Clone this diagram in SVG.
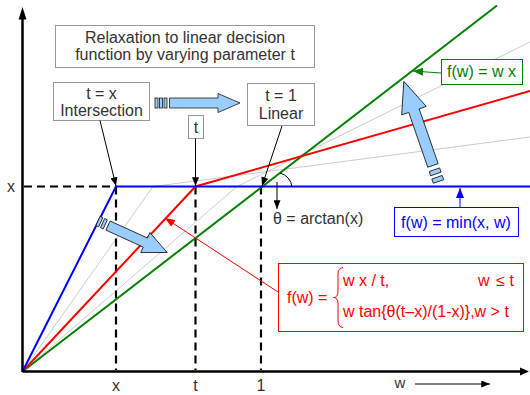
<svg xmlns="http://www.w3.org/2000/svg" width="530" height="395" viewBox="0 0 530 395">
<defs>
<style>
text { font-family: "Liberation Sans", Arial, sans-serif; font-size: 16px; fill: #333; }
.mid { text-anchor: middle; }
.box { fill: #fff; stroke: #999; stroke-width: 1; }
.dash { stroke: #000; stroke-width: 2.2; stroke-dasharray: 8 5; fill: none; }
.gray { stroke: #ccc; stroke-width: 1; fill: none; }
.blk { stroke: #000; stroke-width: 1; fill: none; }
.axis { stroke: #000; stroke-width: 2.5; fill: none; }
.barrow { fill: #99ccff; stroke: #1a1a1a; stroke-width: 0.8; }
.cblue { stroke: #0000ff; stroke-width: 2; fill: none; }
.cred { stroke: #ff0000; stroke-width: 2; fill: none; }
.cgreen { stroke: #008000; stroke-width: 2; fill: none; }
</style>
<marker id="ah" viewBox="0 0 10 8" refX="10" refY="4" markerWidth="9" markerHeight="7" markerUnits="userSpaceOnUse" orient="auto"><path d="M0,0 L10,4 L0,8 z" fill="#000"/></marker>
<marker id="ahr" viewBox="0 0 10 8" refX="10" refY="4" markerWidth="10" markerHeight="8" markerUnits="userSpaceOnUse" orient="auto"><path d="M0,0 L10,4 L0,8 z" fill="#ff0000"/></marker>
<marker id="ahb" viewBox="0 0 10 8" refX="10" refY="4" markerWidth="10" markerHeight="8" markerUnits="userSpaceOnUse" orient="auto"><path d="M0,0 L10,4 L0,8 z" fill="#0000ff"/></marker>
<marker id="ahg" viewBox="0 0 10 8" refX="10" refY="4" markerWidth="10" markerHeight="8" markerUnits="userSpaceOnUse" orient="auto"><path d="M0,0 L10,4 L0,8 z" fill="#008000"/></marker>
</defs>
<rect x="0" y="0" width="530" height="395" fill="#fff"/>

<g id="gray-curves">
<polyline class="gray" points="22.5,371.5 153,186.5 530,137"/>
<polyline class="gray" points="22.5,371.5 237,186.5 530,42"/>
</g>

<g id="guides">
<path class="dash" d="M24,186.5 H116 M116,186.5 V370 M195.5,186.5 V370 M261,186.5 V370"/>
</g>

<g id="curves">
<polyline class="cgreen" points="22.5,371.5 497,5.5"/>
<polyline class="cred" points="22.5,371.5 195.5,186.5 530,91"/>
<polyline class="cblue" points="22.5,371.5 116,186.5 530,186.5"/>
</g>

<g id="axes">
<path class="axis" d="M22.5,372 V18 M22.5,371.5 H521"/>
<polygon points="22.5,7 18.5,19.5 26.5,19.5" fill="#000"/>
<polygon points="529,371.5 520,367.5 520,375.5" fill="#000"/>
<text x="11" y="192" class="mid">x</text>
<text x="116" y="391" class="mid">x</text>
<text x="195.5" y="391" class="mid">t</text>
<text x="261" y="391" class="mid">1</text>
<text x="400" y="388" class="mid" style="font-size:15px">w</text>
<line class="blk" x1="415" y1="384" x2="490" y2="384" marker-end="url(#ah)"/>
</g>

<g id="title">
<rect class="box" x="55.5" y="25.5" width="259" height="42"/>
<text x="185" y="43" class="mid">Relaxation to linear decision</text>
<text x="185" y="60" class="mid">function by varying parameter t</text>
</g>

<g id="node-intersection">
<rect class="box" x="53.5" y="82.5" width="96" height="38"/>
<text x="101.5" y="99" class="mid">t = x</text>
<text x="101.5" y="116" class="mid">Intersection</text>
</g>

<g id="node-linear">
<rect class="box" x="247.5" y="83.5" width="67" height="42"/>
<text x="281" y="101" class="mid">t = 1</text>
<text x="281" y="119" class="mid">Linear</text>
</g>

<g id="node-t">
<rect class="box" x="188.5" y="115.5" width="15" height="23"/>
<text x="196" y="133" class="mid">t</text>
</g>

<g id="node-theta">
<text x="273" y="224">θ = arctan(x)</text>
</g>

<g id="node-green">
<rect x="441.5" y="59.5" width="81" height="25" fill="#fff" stroke="#008000" stroke-width="1"/>
<text x="481.5" y="77" class="mid" style="fill:#008000">f(w) = w x</text>
</g>

<g id="node-blue">
<rect x="394.5" y="207.5" width="124" height="29" fill="#fff" stroke="#0000ff" stroke-width="1"/>
<text x="456" y="228" class="mid" style="fill:#0000ff">f(w) = min(x, w)</text>
</g>

<g id="node-red">
<rect x="278.5" y="263.5" width="245" height="68" fill="#fff" stroke="#ff0000" stroke-width="1"/>
<g style="fill:#ff0000">
<text x="287" y="303" style="fill:#ff0000">f(w) =</text>
<text x="343" y="286" style="fill:#ff0000">w x / t,</text>
<text x="478" y="286" style="fill:#ff0000">w</text>
<text x="514" y="286" style="fill:#ff0000;text-anchor:end">≤ t</text>
<text x="343" y="317" style="fill:#ff0000">w tan{θ(t–x)/(1-x)},w &gt; t</text>
</g>
<path d="M343,267.5 Q338,268 338,274 L338,291 Q338,297.5 333.5,297.5 Q338,297.5 338,304 L338,321 Q338,327 343,327.5" fill="none" stroke="#ff0000" stroke-width="1"/>
</g>

<g id="block-arrows">
<g transform="translate(155,103)">
<rect class="barrow" x="0" y="-5" width="3" height="10"/>
<rect class="barrow" x="4.5" y="-5" width="3" height="10"/>
<rect class="barrow" x="9" y="-5" width="3" height="10"/>
<path class="barrow" d="M14.5,-5 H63 V-9.5 L85,0 L63,9.5 V5 H14.5 Z"/>
</g>
<g transform="translate(438.5,181.5) rotate(-109.1)">
<rect class="barrow" x="0" y="-5.5" width="4.5" height="11"/>
<rect class="barrow" x="8" y="-5.5" width="4.5" height="11"/>
<path class="barrow" d="M17,-5.5 H75 V-13 L106,0 L75,13 V5.5 H17 Z"/>
</g>
<g transform="translate(98,221) rotate(24.5)">
<rect class="barrow" x="0" y="-5" width="3" height="10"/>
<rect class="barrow" x="5" y="-5" width="3" height="10"/>
<path class="barrow" d="M11,-5 H52 V-11 L76,0 L52,11 V5 H11 Z"/>
</g>
</g>

<g id="connectors">
<line class="blk" x1="100" y1="120.5" x2="116" y2="186" marker-end="url(#ah)"/>
<line class="blk" x1="195.5" y1="138.5" x2="195.5" y2="186" marker-end="url(#ah)"/>
<line class="blk" x1="282" y1="126" x2="262" y2="186" marker-end="url(#ah)"/>
<path class="blk" d="M292,187 A16,16 0 0 0 280,173"/>
<line class="blk" x1="277" y1="182" x2="277" y2="209" marker-end="url(#ah)"/>
<line x1="460" y1="207" x2="460" y2="188" stroke="#0000ff" stroke-width="1" marker-end="url(#ahb)"/>
<line x1="441" y1="73" x2="413" y2="71" stroke="#008000" stroke-width="1" marker-end="url(#ahg)"/>
<line x1="278" y1="292" x2="165" y2="218" stroke="#ff0000" stroke-width="1" marker-end="url(#ahr)"/>
</g>
</svg>
